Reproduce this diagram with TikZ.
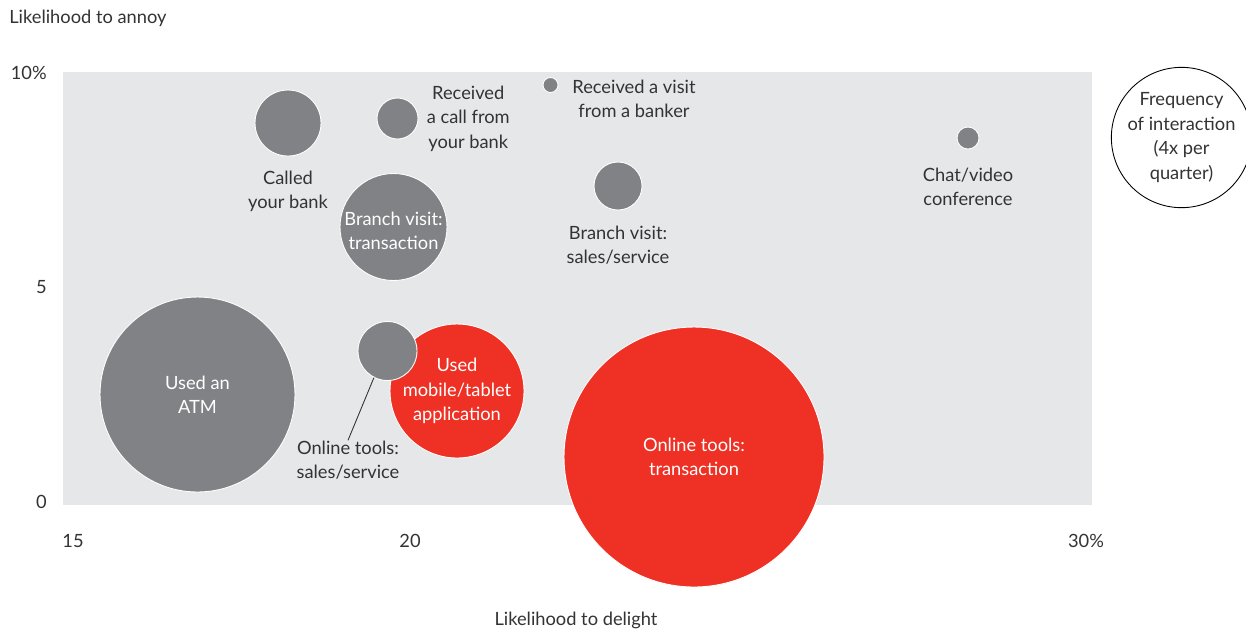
\documentclass[tikz,border=0pt]{standalone}
\usepackage{fontspec}
\setmainfont{Lato}
\usepackage{xcolor}
\usepackage{tikz}
\usetikzlibrary{positioning, calc}

\definecolor{panelgray}{HTML}{E6E7E8}
\definecolor{dotgray}{HTML}{808285}
\definecolor{dotred}{HTML}{EE3124}
\definecolor{txtgray}{HTML}{333333}

\begin{document}
\begin{tikzpicture}[
            x=0.02cm, y=-0.02cm,
            every node/.style={font=\fontsize{10.4}{13.9}\selectfont},
            bubble/.style={circle, draw=white, line width=0.5pt, fill=dotgray, inner sep=0pt, minimum size=#1, align=center, text=white},
            redbubble/.style={bubble=#1, fill=dotred},
            lbl/.style={align=center, text=txtgray, inner sep=0pt},
            tick/.style={text=txtgray, inner sep=0pt}
        ]
        \useasboundingbox (0,0) rectangle (1246,630);
        \fill[panelgray] (63,72) rectangle (1092,505);

        % Axes
        \node[tick, anchor=west] (ytitle) at (9,18) {Likelihood to annoy};
        \node[tick, anchor=east] (y10) at (47,73) {10\%};
        \node[tick, anchor=east] (y5) at (47,287) {5};
        \node[tick, anchor=east] (y0) at (47,502) {0};
        \node[tick] (x15) at (73,541) {15};
        \node[tick] (x20) at (410,541) {20};
        \node[tick] (x30) at (1086,541) {30\%};
        \node[tick] (xtitle) at (576,620) {Likelihood to delight};

        % Bubbles
        \node[bubble=3.9cm] (atm) at (197.5,394.5) {Used an\\ATM};
        \node[bubble=1.32cm] (called) at (288,123) {};
        \node[bubble=0.82cm] (rcall) at (397.5,118.5) {};
        \node[bubble=2.14cm] (btrans) at (393.5,227) {};
        \node[text=white, align=center, inner sep=0pt] (btransl) at (393.5,231) {Branch visit:\\transaction};
        \node[bubble=0.3cm] (visit) at (550.5,85) {};
        \node[bubble=0.96cm] (bsales) at (618,186) {};
        \node[bubble=0.44cm] (chat) at (968,138) {};
        \node[redbubble=2.68cm] (mobile) at (457,391) {Used\\mobile/tablet\\application};
        \node[bubble=1.18cm] (oss) at (387.5,351) {};
        \node[redbubble=5.2cm] (otrans) at (694,457) {Online tools:\\transaction};

        % Labels
        \node[lbl, below=0.28cm of called] (calledl) {Called\\your bank};
        \node[lbl, right=0.16cm of rcall] (rcalll) {Received\\a call from\\your bank};
        \node[lbl] (visitl) at (634,99) {Received a visit\\from a banker};
        \node[lbl, below=0.3cm of bsales] (bsalesl) {Branch visit:\\sales/service};
        \node[lbl, below=0.36cm of chat] (chatl) {Chat/video\\conference};
        \node[lbl] (ossl) at (348,460) {Online tools:\\sales/service};
        \draw[txtgray, line width=0.5pt] (oss.243) -- (ossl.north);

        % Legend
        \node[circle, draw=black, line width=0.5pt, fill=white, minimum size=2.56cm, inner sep=0pt, align=center, text=txtgray] (freq) at (1181.5,137.5) {Frequency\\of interaction\\(4x per\\quarter)};

    \end{tikzpicture}
\end{document}
